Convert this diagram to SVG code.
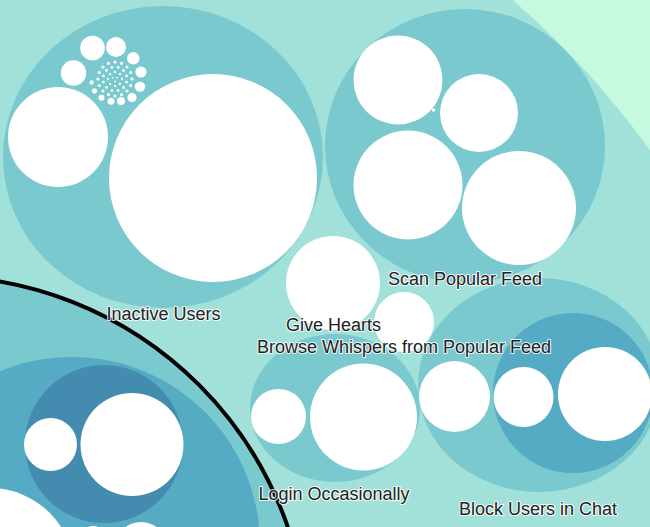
<svg xmlns="http://www.w3.org/2000/svg" width="650" height="527" viewBox="0 0 650 527">
<style>
.l1{fill:#a1e1da}
.l2{fill:#79c9cf}
.l3{fill:#55aac4}
.l4{fill:#448bb0}
.leaf{fill:#ffffff}
.focus{stroke:#000;stroke-width:4}
.label{font-family:"Liberation Sans",Arial,Helvetica,sans-serif;font-size:18px;fill:#222;text-anchor:middle;stroke:#fff;stroke-width:2.2;stroke-opacity:0.85;paint-order:stroke;stroke-linejoin:round}
</style>
<rect width="650" height="527" fill="#c5f9e0"/>
<g id="root"><circle class="l1" cx="-70" cy="670" r="888"/></g>

<g id="inactive-users-group">
<ellipse class="l2" cx="163" cy="157" rx="160" ry="151"/>
<circle class="leaf" cx="213" cy="178" r="104"/>
<circle class="leaf" cx="58" cy="137" r="50"/>
<g id="cluster">
<circle class="leaf" cx="92.5" cy="48" r="12.3"/>
<circle class="leaf" cx="116" cy="47" r="10"/>
<circle class="leaf" cx="73.5" cy="73" r="12.7"/>
<circle class="leaf" cx="133.3" cy="58.3" r="6.2"/>
<circle class="leaf" cx="141" cy="72" r="5.6"/>
<circle class="leaf" cx="140" cy="86.6" r="5.2"/>
<circle class="leaf" cx="132" cy="97.6" r="4.6"/>
<circle class="leaf" cx="121" cy="101" r="4"/>
<circle class="leaf" cx="111" cy="101.2" r="3.5"/>
<circle class="leaf" cx="101.5" cy="97.8" r="3"/>
<circle class="leaf" cx="94.5" cy="90.8" r="2.6"/>
<circle class="leaf" cx="91.6" cy="82.5" r="2.2"/>
<circle class="leaf" cx="132" cy="79" r="1.6"/>
<circle class="leaf" cx="130.7" cy="85.5" r="1.6"/>
<circle class="leaf" cx="127" cy="91" r="1.6"/>
<circle class="leaf" cx="121.5" cy="94.7" r="1.6"/>
<circle class="leaf" cx="115" cy="96" r="1.6"/>
<circle class="leaf" cx="108.5" cy="94.7" r="1.6"/>
<circle class="leaf" cx="103" cy="91" r="1.6"/>
<circle class="leaf" cx="99.3" cy="85.5" r="1.6"/>
<circle class="leaf" cx="98" cy="79" r="1.6"/>
<circle class="leaf" cx="99.3" cy="72.5" r="1.6"/>
<circle class="leaf" cx="103" cy="67" r="1.6"/>
<circle class="leaf" cx="108.5" cy="63.3" r="1.6"/>
<circle class="leaf" cx="115" cy="62" r="1.6"/>
<circle class="leaf" cx="121.5" cy="63.3" r="1.6"/>
<circle class="leaf" cx="127" cy="67" r="1.6"/>
<circle class="leaf" cx="130.7" cy="72.5" r="1.6"/>
<circle class="leaf" cx="126.6" cy="82.1" r="1.4"/>
<circle class="leaf" cx="123.5" cy="87.5" r="1.4"/>
<circle class="leaf" cx="118.1" cy="90.6" r="1.4"/>
<circle class="leaf" cx="111.9" cy="90.6" r="1.4"/>
<circle class="leaf" cx="106.5" cy="87.5" r="1.4"/>
<circle class="leaf" cx="103.4" cy="82.1" r="1.4"/>
<circle class="leaf" cx="103.4" cy="75.9" r="1.4"/>
<circle class="leaf" cx="106.5" cy="70.5" r="1.4"/>
<circle class="leaf" cx="111.9" cy="67.4" r="1.4"/>
<circle class="leaf" cx="118.1" cy="67.4" r="1.4"/>
<circle class="leaf" cx="123.5" cy="70.5" r="1.4"/>
<circle class="leaf" cx="126.6" cy="75.9" r="1.4"/>
<circle class="leaf" cx="122" cy="79" r="1.2"/>
<circle class="leaf" cx="119.9" cy="83.9" r="1.2"/>
<circle class="leaf" cx="115" cy="86" r="1.2"/>
<circle class="leaf" cx="110.1" cy="83.9" r="1.2"/>
<circle class="leaf" cx="108" cy="79" r="1.2"/>
<circle class="leaf" cx="110.1" cy="74.1" r="1.2"/>
<circle class="leaf" cx="115" cy="72" r="1.2"/>
<circle class="leaf" cx="119.9" cy="74.1" r="1.2"/>
<circle class="leaf" cx="115" cy="81.5" r="0.9"/>
<circle class="leaf" cx="112.8" cy="77.7" r="0.9"/>
<circle class="leaf" cx="117.2" cy="77.7" r="0.9"/>
</g>
</g>

<g id="scan-popular-feed-group">
<ellipse class="l2" cx="465" cy="146" rx="140" ry="137"/>
<circle class="leaf" cx="398" cy="80" r="44.5"/>
<circle class="leaf" cx="479" cy="113" r="39"/>
<circle class="leaf" cx="408" cy="185" r="54.5"/>
<circle class="leaf" cx="519" cy="208" r="57"/>
<circle class="leaf" cx="433.5" cy="110" r="1.8"/>
</g>

<g id="give-hearts"><circle class="leaf" cx="333" cy="283" r="47"/></g>
<g id="browse-whispers"><circle class="leaf" cx="404" cy="322" r="30"/></g>

<g id="login-occasionally-group">
<ellipse class="l2" cx="335" cy="408" rx="85" ry="74"/>
<circle class="leaf" cx="278.5" cy="416.5" r="27.5"/>
<circle class="leaf" cx="363.5" cy="417" r="53.5"/>
</g>

<g id="block-users-group">
<ellipse class="l2" cx="539" cy="385" rx="121" ry="107"/>
<circle class="leaf" cx="454.5" cy="396.5" r="35.5"/>
<circle class="l3" cx="573" cy="393" r="80"/>
<circle class="leaf" cx="523.5" cy="397" r="30"/>
<circle class="leaf" cx="605" cy="394" r="47"/>
</g>

<g id="focused-group">
<circle class="l2 focus" cx="-64" cy="648" r="372"/>
<circle class="l3" cx="72" cy="545" r="188"/>
<circle class="l4" cx="104" cy="444" r="79"/>
<circle class="leaf" cx="50.5" cy="444.5" r="26.5"/>
<circle class="leaf" cx="132" cy="444.5" r="51.5"/>
<circle class="leaf" cx="-10" cy="572" r="84"/>
<circle class="leaf" cx="141" cy="548" r="26"/>
<circle class="leaf" cx="93" cy="538" r="12"/>
</g>

<g id="labels">
<text class="label" x="163.5" y="319.5">Inactive Users</text>
<text class="label" x="465" y="285">Scan Popular Feed</text>
<text class="label" x="333.5" y="330.5">Give Hearts</text>
<text class="label" x="404" y="352.5">Browse Whispers from Popular Feed</text>
<text class="label" x="334" y="500">Login Occasionally</text>
<text class="label" x="538" y="515">Block Users in Chat</text>
</g>
</svg>
